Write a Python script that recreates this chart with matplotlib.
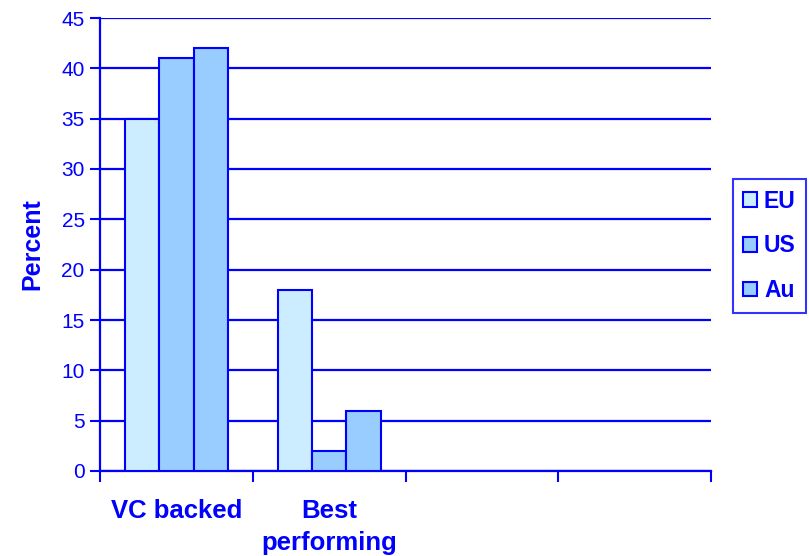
import numpy as np
import matplotlib.pyplot as plt

plt.rcParams['font.family'] = ['Liberation Sans', 'DejaVu Sans']

categories = ['VC backed', 'Best\nperforming']
series = ['EU', 'US', 'Au']
eu = [35, 18]
us = [41, 2]
au = [42, 6]
colors = ['#CCECFF', '#99CCFF', '#99CCFF']
blue = '#0000FF'

fig = plt.figure(figsize=(8.09, 5.56), dpi=100)
ax = fig.add_axes([100/809, 1 - 471/556, 611/809, 453/556])

x = np.arange(len(categories))
w = 0.225
for i, (vals, c, name) in enumerate(zip([eu, us, au], colors, series)):
    ax.bar(x + (i - 1) * w, vals, w, color=c, edgecolor=blue, linewidth=1.5,
           label=name, zorder=3)

ax.set_xlim(-0.5, 3.5)
ax.set_ylim(0, 45)
ax.set_yticks(np.arange(0, 46, 5))
ax.yaxis.grid(True, color=blue, linewidth=1.6)
ax.set_axisbelow(True)

# category labels without marks, boundary ticks as minor marks
ax.set_xticks(x)
ax.set_xticklabels(categories, fontsize=18.5, fontweight='bold', color=blue,
                   linespacing=1.45)
ax.set_xticks(np.arange(-0.5, 3.6, 1), minor=True)
ax.tick_params(axis='x', which='major', length=0, pad=20)
ax.tick_params(axis='x', which='minor', length=8, width=1.5, color=blue,
               direction='out')
ax.tick_params(axis='y', length=7, width=1.5, color=blue, labelsize=15,
               labelcolor=blue, pad=4)

for s in ['top', 'right']:
    ax.spines[s].set_visible(False)
for s in ['left', 'bottom']:
    ax.spines[s].set_color(blue)
    ax.spines[s].set_linewidth(1.6)

ax.set_ylabel('Percent', fontsize=18, fontweight='bold', color=blue, labelpad=12)

leg = fig.legend(loc='center left', bbox_to_anchor=(733/809, 1 - 246/556),
                 frameon=True, fancybox=False,
                 prop={'weight': 'bold', 'size': 16.5},
                 handlelength=0.6, handleheight=0.6, handletextpad=0.3,
                 labelspacing=0.95, borderpad=0.45, borderaxespad=0)
leg.get_frame().set_edgecolor(blue)
leg.get_frame().set_linewidth(1.5)
for t in leg.get_texts():
    t.set_color(blue)

fig.savefig('out.png', dpi=100)
